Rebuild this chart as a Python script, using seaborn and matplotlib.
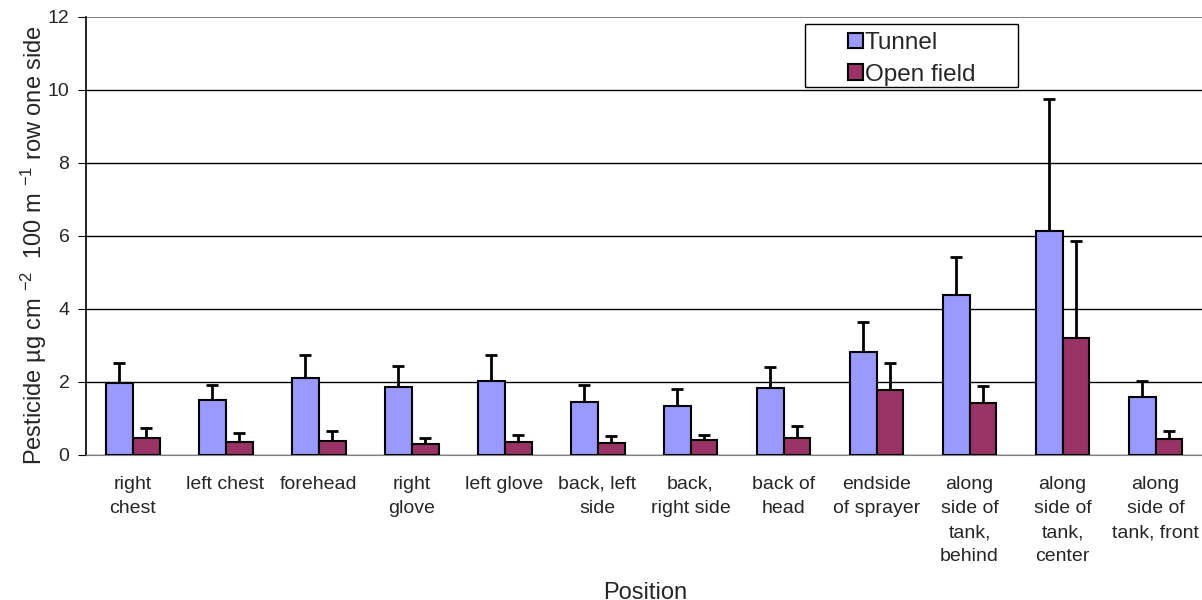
import pandas as pd
import matplotlib.pyplot as plt
import matplotlib.patches as mpatches
import seaborn as sns
import numpy as np

# values
positions = ['right\nchest', 'left chest', 'forehead', 'right\nglove', 'left glove',
             'back, left\nside', 'back,\nright side', 'back of\nhead', 'endside\nof sprayer',
             'along\nside of\ntank,\nbehind', 'along\nside of\ntank,\ncenter', 'along\nside of\ntank, front']
tunnel = [1.97, 1.51, 2.11, 1.86, 2.03, 1.45, 1.34, 1.84, 2.82, 4.38, 6.14, 1.59]
tunnel_sd = [0.55, 0.41, 0.63, 0.58, 0.71, 0.47, 0.47, 0.57, 0.82, 1.04, 3.61, 0.44]
open_field = [0.47, 0.36, 0.38, 0.30, 0.36, 0.33, 0.41, 0.47, 1.78, 1.42, 3.20, 0.44]
open_field_sd = [0.27, 0.24, 0.28, 0.17, 0.19, 0.19, 0.14, 0.32, 0.74, 0.47, 2.66, 0.22]

df = pd.DataFrame({
    'Position': positions * 2,
    'value': tunnel + open_field,
    'sd': tunnel_sd + open_field_sd,
    'Site': ['Tunnel'] * 12 + ['Open field'] * 12,
})

sns.set_style('white')
plt.rcParams['font.family'] = ['Liberation Sans', 'DejaVu Sans']
plt.rcParams['mathtext.fontset'] = 'custom'
plt.rcParams['mathtext.rm'] = 'Liberation Sans'
plt.rcParams['mathtext.default'] = 'regular'

fig = plt.figure(figsize=(12.02, 6), dpi=100)
ax = fig.add_axes([0.0716, 0.2417, 0.9284, 0.73])

sns.barplot(data=df, x='Position', y='value', hue='Site', order=positions,
            hue_order=['Tunnel', 'Open field'], palette=['#9999FF', '#993366'],
            width=0.58, gap=0, edgecolor='black', linewidth=1.5, errorbar=None,
            saturation=1, ax=ax, zorder=3)

# upward-only error bars at bar centers
for container, sds in zip(ax.containers, [tunnel_sd, open_field_sd]):
    xs = [p.get_x() + p.get_width() / 2 for p in container.patches]
    hs = [p.get_height() for p in container.patches]
    ax.errorbar(xs, hs, yerr=[np.zeros(len(sds)), sds], fmt='none', ecolor='black',
                elinewidth=2, capsize=4.5, capthick=2, zorder=2)

ax.set_ylim(0, 12)
ax.set_yticks(range(0, 13, 2))
ax.yaxis.grid(True, color='black', linewidth=1)
ax.get_ygridlines()[-1].set_color('gray')
ax.get_ygridlines()[-1].set_linewidth(1.5)
ax.set_axisbelow(True)
ax.set_xlim(-0.5, 11.5)
ax.set_xticks(range(12))
ax.set_xticklabels(positions, fontsize=14, linespacing=1.55)
ax.set_xticks(np.arange(-0.5, 12, 1), minor=True)
ax.tick_params(axis='x', which='major', length=0, pad=15)
ax.tick_params(axis='x', which='minor', length=5, color='gray', direction='out')
ax.tick_params(axis='y', length=6, direction='out', labelsize=14, color='black', left=True, pad=6)
for s in ['top', 'right']:
    ax.spines[s].set_visible(False)
ax.spines['left'].set_color('black')
ax.spines['bottom'].set_color('gray')
ax.spines['left'].set_linewidth(1.2)

ax.set_ylabel('Pesticide µg cm $^{-2}$  100 m $^{-1}$ row one side', fontsize=17)
ax.yaxis.set_label_coords(-0.033, 0.479)
ax.set_xlabel('Position', fontsize=17, va='top')
ax.xaxis.set_label_coords(0.501, -0.29)

# legend without frame, box drawn separately (wide, centred content as in reference)
leg = ax.legend(loc='upper left', bbox_to_anchor=(0.683, 0.966), fontsize=17.5, frameon=False,
                handlelength=0.6, handleheight=0.6, handletextpad=0.08,
                borderpad=0, labelspacing=0.4, borderaxespad=0)
for h in leg.legend_handles:
    h.set_edgecolor('black')
    h.set_linewidth(1.5)
box = mpatches.Rectangle((805 / 1202, 1 - 87 / 600), 213 / 1202, 63 / 600,
                         transform=fig.transFigure, facecolor='white',
                         edgecolor='black', linewidth=1, zorder=5, clip_on=False)
ax.add_artist(box)
leg.set_zorder(10)

plt.savefig('out.png', dpi=100)
